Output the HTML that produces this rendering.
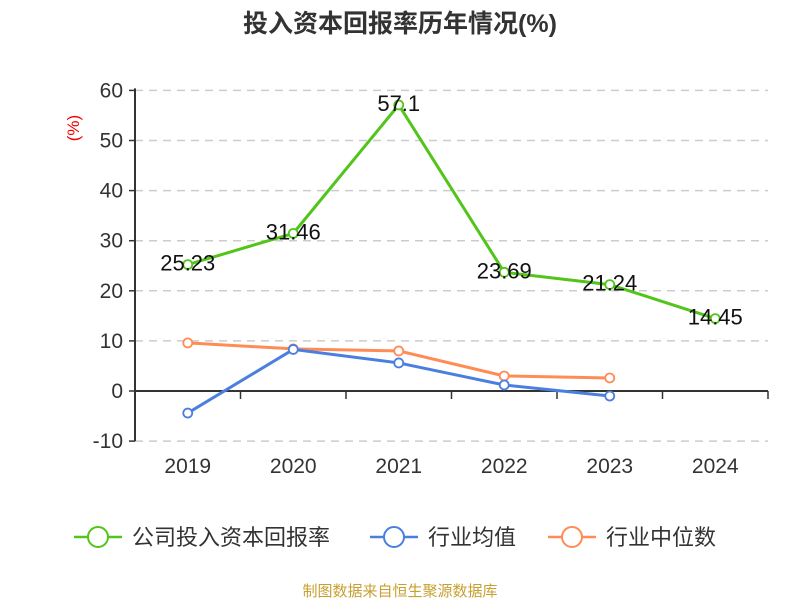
<!DOCTYPE html>
<html><head><meta charset="utf-8"><style>
body{margin:0;background:#fff;font-family:"Liberation Sans","Noto Sans CJK SC",sans-serif}
</style></head><body>
<svg id="c" width="800" height="600" xmlns="http://www.w3.org/2000/svg" font-family="Liberation Sans, Noto Sans CJK SC, sans-serif">
<text x="400" y="32" text-anchor="middle" font-size="25" font-weight="bold" fill="#333">投入资本回报率历年情况(%)</text>
<text x="79" y="128" font-size="17" fill="#e00" transform="rotate(-90 79 128)" text-anchor="middle">(%)</text>
<g id="grid"></g><g id="axes"></g><g id="series"></g>
<g font-size="22" fill="#333">
<g><line x1="74" y1="537" x2="122" y2="537" stroke="#52c41a" stroke-width="2.5"/><circle cx="98" cy="537" r="10" fill="#fff" stroke="#52c41a" stroke-width="2"/><text x="132" y="545">公司投入资本回报率</text></g>
<g><line x1="370" y1="537" x2="418" y2="537" stroke="#4a7fe0" stroke-width="2.5"/><circle cx="394" cy="537" r="10" fill="#fff" stroke="#4a7fe0" stroke-width="2"/><text x="428" y="545">行业均值</text></g>
<g><line x1="548" y1="537" x2="596" y2="537" stroke="#ff8c55" stroke-width="2.5"/><circle cx="572" cy="537" r="10" fill="#fff" stroke="#ff8c55" stroke-width="2"/><text x="606" y="545">行业中位数</text></g>
</g>
<text x="400" y="596" text-anchor="middle" font-size="15" fill="#c8a030">制图数据来自恒生聚源数据库</text>
</svg>
<script>
const categories=["2019","2020","2021","2022","2023","2024"];
const company=[25.23,31.46,57.1,23.69,21.24,14.45];
const companyLabels=["25.23","31.46","57.1","23.69","21.24","14.45"];
const industryAvg=[-4.4,8.3,5.6,1.2,-1.0];
const industryMedian=[9.6,8.4,8.0,3.0,2.6];
const yTicks=[60,50,40,30,20,10,0,-10];
const NS="http://www.w3.org/2000/svg";
const x0=135,x1=768,bw=(x1-x0)/categories.length;
const X=i=>x0+bw*(i+0.5);
const Y=v=>391-v*5.01;
function mk(t,a,p){const e=document.createElementNS(NS,t);for(const k in a)e.setAttribute(k,a[k]);p.appendChild(e);return e;}
const grid=document.getElementById('grid'),axes=document.getElementById('axes'),ser=document.getElementById('series');
yTicks.forEach(v=>{
 if(v!==0){const g=mk('line',{x1:x0,x2:x1,y1:Y(v),y2:Y(v),stroke:'#ccc','stroke-dasharray':'8,6','stroke-width':1.5},grid);
 }
 const t=mk('line',{x1:x0-6,x2:x0,y1:Y(v),y2:Y(v),stroke:'#333','stroke-width':1.5},axes);
 
 const l=mk('text',{x:x0-12,y:Y(v)+7,'text-anchor':'end','font-size':21,fill:'#333'},axes);l.textContent=v;
 
});
const ya=mk('line',{x1:x0,x2:x0,y1:Y(60)-2,y2:Y(-10),stroke:'#333','stroke-width':2},axes);

const xa=mk('line',{x1:x0,x2:x1,y1:Y(0),y2:Y(0),stroke:'#333','stroke-width':2},axes);

for(let i=0;i<=categories.length;i++){const t=mk('line',{x1:x0+bw*i,x2:x0+bw*i,y1:Y(0),y2:Y(0)+8,stroke:'#333','stroke-width':1.5},axes);
 }
categories.forEach((c,i)=>{const l=mk('text',{x:X(i),y:473,'text-anchor':'middle','font-size':21,fill:'#333'},axes);l.textContent=c;
 });
function series(vals,color,name){
 const p=mk('polyline',{points:vals.map((v,i)=>X(i)+','+Y(v)).join(' '),fill:'none',stroke:color,'stroke-width':3},ser);
 
 vals.forEach((v,i)=>{const c=mk('circle',{cx:X(i),cy:Y(v),r:4.5,fill:'#fff',stroke:color,'stroke-width':1.8},ser);
 });
}
series(industryMedian,'#ff8c55','industry-median');
series(industryAvg,'#4a7fe0','industry-avg');
series(company,'#52c41a','company');
company.forEach((v,i)=>{const l=mk('text',{x:X(i),y:Y(v)+6,'text-anchor':'middle','font-size':22,fill:'#111'},ser);l.textContent=companyLabels[i];
 });
</script>
</body></html>
